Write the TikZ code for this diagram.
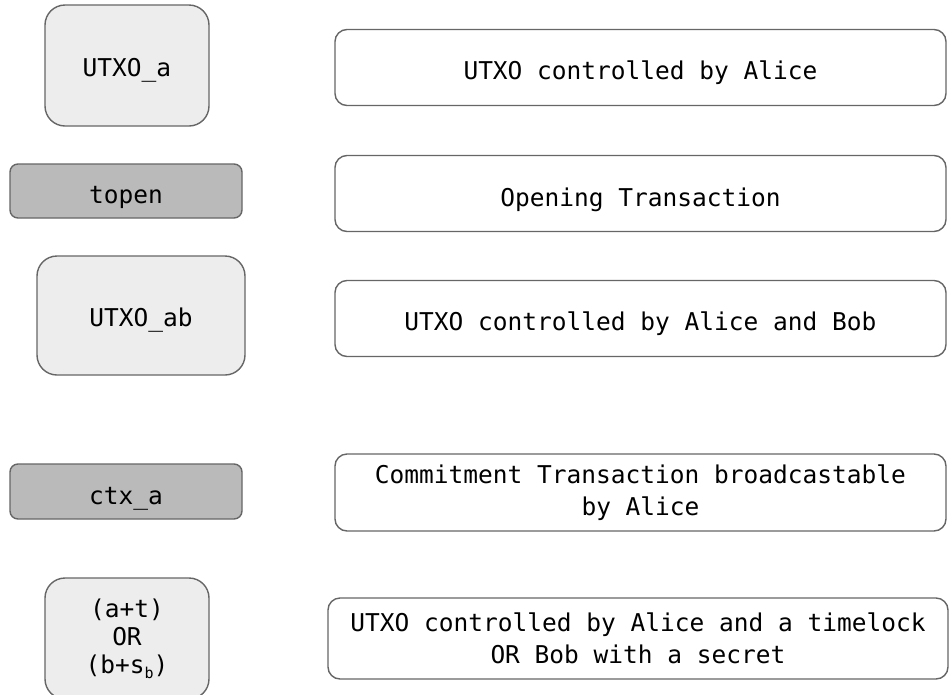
\documentclass[tikz,border=0pt]{standalone}
\usepackage{fontspec}
\setmainfont{DejaVu Sans Mono}
\newcommand{\subb}{\raisebox{-5pt}{\fontsize{15}{15}\selectfont b}}
\begin{document}
\begin{tikzpicture}[x=1pt,y=-1pt,
  box/.style={draw=black!60, line width=1.4pt, inner sep=0pt, align=center,
    font=\fontsize{24.5}{32}\selectfont},
  oneline/.style={text height=#1, text depth=0pt},
  oneline/.default=25pt,
  state/.style={box, fill=black!7, rounded corners=20pt},
  tx/.style={box, oneline, fill=black!27, rounded corners=8pt},
  note/.style={box, fill=white, rounded corners=12pt}]
\useasboundingbox (0,0) rectangle (951,694);
\begin{scope}
\clip (0,0) rectangle (951,694);
% left column: outputs and transactions
\node[state, oneline=22pt, minimum width=164pt, minimum height=121pt] (ua) at (127,65.5) {UTXO\_a};
\node[tx, minimum width=232pt, minimum height=54pt] (topen) at (126,191) {topen};
\node[state, oneline=22pt, minimum width=208pt, minimum height=119pt] (uab) at (141,315.5) {UTXO\_ab};
\node[tx, minimum width=232pt, minimum height=55pt] (ctxa) at (126,491.5) {ctx\_a};
\node[state, minimum width=164pt, minimum height=121pt, font=\fontsize{24.5}{28}\selectfont] (cond) at (127,638.5)
  {(a+t)\\OR\\(b+s\subb)};
% right column: descriptions
\node[note, oneline=24pt, minimum width=611pt, minimum height=76pt] (d1) at (640.5,67.5) {UTXO controlled by Alice};
\node[note, oneline, minimum width=611pt, minimum height=76pt] (d2) at (640.5,193.5) {Opening Transaction};
\node[note, oneline=24pt, minimum width=611pt, minimum height=76pt] (d3) at (640.5,318.5) {UTXO controlled by Alice and Bob};
\node[note, minimum width=611pt, minimum height=77pt] (d4) at (640.5,492.5) {Commitment Transaction broadcastable\\by Alice};
\node[note, minimum width=620pt, minimum height=81pt] (d5) at (638,638.5) {UTXO controlled by Alice and a timelock\\OR Bob with a secret};
\end{scope}
\end{tikzpicture}
\end{document}
